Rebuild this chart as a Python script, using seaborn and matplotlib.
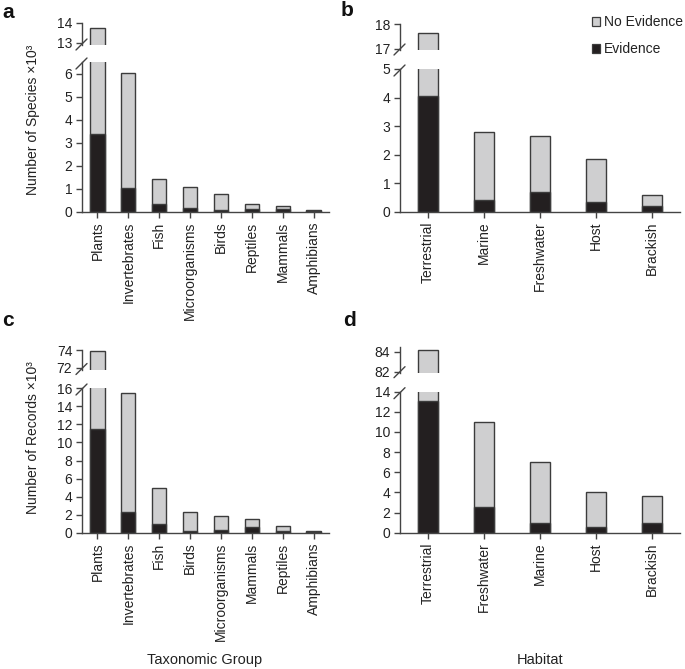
import matplotlib
matplotlib.use("Agg")
import matplotlib.pyplot as plt
import seaborn as sns
from matplotlib.lines import Line2D
from matplotlib.patches import Patch

# values are in thousands (x10^3)
taxa_species = ["Plants", "Invertebrates", "Fish", "Microorganisms", "Birds", "Reptiles", "Mammals", "Amphibians"]
taxa_species_total = [13.73, 6.03, 1.42, 1.09, 0.76, 0.35, 0.26, 0.10]
taxa_species_evidence = [3.39, 1.02, 0.33, 0.19, 0.10, 0.12, 0.13, 0.06]

habitat_species = ["Terrestrial", "Marine", "Freshwater", "Host", "Brackish"]
habitat_species_total = [17.63, 2.79, 2.66, 1.86, 0.58]
habitat_species_evidence = [4.07, 0.43, 0.71, 0.34, 0.22]

taxa_records = ["Plants", "Invertebrates", "Fish", "Birds", "Microorganisms", "Mammals", "Reptiles", "Amphibians"]
taxa_records_total = [73.9, 15.48, 4.96, 2.35, 1.91, 1.51, 0.77, 0.26]
taxa_records_evidence = [11.47, 2.28, 1.03, 0.26, 0.37, 0.66, 0.18, 0.10]

habitat_records = ["Terrestrial", "Freshwater", "Marine", "Host", "Brackish"]
habitat_records_total = [84.17, 11.03, 7.05, 4.00, 3.64]
habitat_records_evidence = [13.08, 2.52, 0.99, 0.60, 0.99]

GREY = "#cfcfd0"
BLACK = "#231f20"
EDGE = "#3c3c3c"
TEXT = "#222222"

sns.set_theme(style="ticks")
plt.rcParams["font.family"] = ["Liberation Sans", "DejaVu Sans"]
plt.rcParams["axes.edgecolor"] = "#444444"
plt.rcParams["axes.linewidth"] = 1.0

W, H = 685, 669
fig = plt.figure(figsize=(W / 100, H / 100), dpi=100)


def box(x0, y0, x1, y1):
    return [x0 / W, 1 - y1 / H, (x1 - x0) / W, (y1 - y0) / H]


def draw_bars(ax, cats, total, evidence, width):
    sns.barplot(x=cats, y=total, color=GREY, width=width, edgecolor=EDGE,
                linewidth=1.0, saturation=1, errorbar=None, ax=ax)
    sns.barplot(x=cats, y=evidence, color=BLACK, width=width, edgecolor=EDGE,
                linewidth=1.0, saturation=1, errorbar=None, ax=ax)
    ax.set_xlim(-0.5, len(cats) - 0.5)
    sns.despine(ax=ax)
    ax.tick_params(axis="y", length=4, width=1.0, labelsize=10, colors="#444444", labelcolor=TEXT, pad=3)


def slash(x, y):
    fig.add_artist(Line2D([(x - 6) / W, (x + 5) / W], [1 - (y + 5) / H, 1 - (y - 6) / H],
                          transform=fig.transFigure, color="#444444", lw=1.0))


def panel(cats, total, evidence, width, xl, xr, top_box, top_lim, top_ticks,
          bot_box, bot_lim, bot_ticks):
    ax_top = fig.add_axes(box(xl, top_box[0], xr, top_box[1]))
    ax_bot = fig.add_axes(box(xl, bot_box[0], xr, bot_box[1]))
    draw_bars(ax_top, cats, total, evidence, width)
    draw_bars(ax_bot, cats, total, evidence, width)
    ax_top.set_ylim(*top_lim)
    ax_top.set_yticks(top_ticks)
    ax_top.spines["bottom"].set_visible(False)
    ax_top.tick_params(axis="x", bottom=False, labelbottom=False)
    ax_bot.set_ylim(*bot_lim)
    ax_bot.set_yticks(bot_ticks)
    ax_bot.tick_params(axis="x", length=4, width=1.0, colors="#444444", labelcolor=TEXT,
                       labelsize=10, rotation=90, pad=3)
    slash(xl, top_box[1])
    slash(xl, bot_box[0] + 2)
    return ax_top, ax_bot


# a
panel(taxa_species, taxa_species_total, taxa_species_evidence, 0.46, 82, 329,
      (23, 45), (12.9, 14.0), [13, 14], (62, 212), (0, 6.5), range(0, 7))
# b
panel(habitat_species, habitat_species_total, habitat_species_evidence, 0.34, 400, 680,
      (24, 50), (16.96, 18.0), [17, 18], (69, 212), (0, 5), range(0, 6))
# c
panel(taxa_records, taxa_records_total, taxa_records_evidence, 0.46, 82, 329,
      (350, 369.5), (71.8, 74.0), [72, 74], (388, 533), (0, 16), range(0, 17, 2))
# d
panel(habitat_records, habitat_records_total, habitat_records_evidence, 0.34, 400, 680,
      (346.7, 372.7), (81.9, 84.5), [82, 84], (391.7, 532.7), (0, 14), range(0, 15, 2))

handles = [Patch(facecolor=GREY, edgecolor=EDGE, linewidth=0.9, label="No Evidence"),
           Patch(facecolor=BLACK, edgecolor=EDGE, linewidth=0.9, label="Evidence")]
fig.legend(handles=handles, loc="upper right", bbox_to_anchor=(683 / W, 1 - 15 / H),
           frameon=False, fontsize=10, handlelength=0.6, handleheight=0.6,
           handletextpad=0.3, labelspacing=0.95, borderpad=0, borderaxespad=0,
           labelcolor=TEXT)

for letter, x, y in [("a", 2, 13), ("b", 341, 10), ("c", 2, 320), ("d", 343, 320)]:
    fig.text(x / W, 1 - y / H, letter, fontsize=15, fontweight="bold", ha="left", va="center", color="#111111")

fig.text(33 / W, 1 - 120 / H, "Number of Species ×10³", rotation=90, fontsize=10,
         ha="center", va="center", color=TEXT)
fig.text(33 / W, 1 - 438 / H, "Number of Records ×10³", rotation=90, fontsize=10,
         ha="center", va="center", color=TEXT)
fig.text(205 / W, 1 - 660 / H, "Taxonomic Group", fontsize=10.5, ha="center", va="center", color=TEXT)
fig.text(540 / W, 1 - 660 / H, "Habitat", fontsize=10.5, ha="center", va="center", color=TEXT)

fig.savefig("out.png", dpi=100, facecolor="white")
